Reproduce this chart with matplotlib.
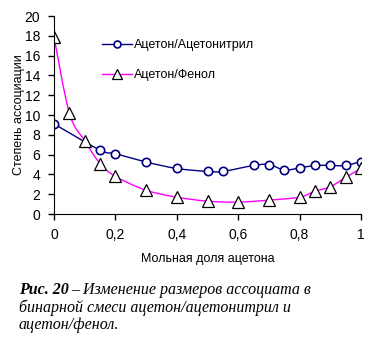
import numpy as np
import matplotlib
matplotlib.use('Agg')
import matplotlib.pyplot as plt
from matplotlib.path import Path
from matplotlib.patches import PathPatch
from matplotlib.ticker import FuncFormatter

plt.rcParams['font.family'] = ['Liberation Sans', 'DejaVu Sans']

# data
x_nitrile = [0, 0.15, 0.2, 0.3, 0.4, 0.5, 0.55, 0.65, 0.7, 0.75, 0.8, 0.85, 0.9, 0.95, 1.0]
y_nitrile = [9.1, 6.45, 6.1, 5.25, 4.6, 4.3, 4.3, 4.9, 5.0, 4.45, 4.65, 4.9, 4.9, 4.9, 5.3]

x_phenol = [0, 0.05, 0.1, 0.15, 0.2, 0.3, 0.4, 0.5, 0.6, 0.7, 0.8, 0.85, 0.9, 0.95, 1.0]
y_phenol = [17.9, 10.2, 7.4, 5.1, 3.8, 2.4, 1.7, 1.3, 1.2, 1.4, 1.7, 2.3, 2.75, 3.7, 4.6]

label_nitrile = 'Ацетон/Ацетонитрил'
label_phenol = 'Ацетон/Фенол'


def smooth_path(xs, ys, t=1/6):
    # Excel-like smoothed line: Catmull-Rom segments as cubic Bezier curves
    pts = np.column_stack([xs, ys])
    verts = [pts[0]]
    codes = [Path.MOVETO]
    n = len(pts)
    for i in range(n - 1):
        p0 = pts[max(i - 1, 0)]
        p1 = pts[i]
        p2 = pts[i + 1]
        p3 = pts[min(i + 2, n - 1)]
        c1 = p1 + (p2 - p0) * t
        c2 = p2 - (p3 - p1) * t
        verts += [c1, c2, p2]
        codes += [Path.CURVE4] * 3
    return Path(verts, codes)


fig = plt.figure(figsize=(3.84, 3.37), dpi=100)
ax = fig.add_axes([54/384, 1 - 214/337, 307/384, 198/337])

ax.add_patch(PathPatch(smooth_path(x_nitrile, y_nitrile), fc='none', ec='#000080', lw=1))
ax.add_patch(PathPatch(smooth_path(x_phenol, y_phenol), fc='none', ec='#ff00ff', lw=1))

ax.plot(x_nitrile, y_nitrile, ls='none', marker='o', ms=6, mfc='white', mec='#000080', mew=1.2)
ax.plot(x_phenol, y_phenol, ls='none', marker='^', ms=8, mfc='white', mec='black', mew=0.9)

# legend handles
h1, = ax.plot([], [], color='#000080', lw=1, marker='o', ms=5, mfc='white', mec='#000080', mew=1.2)
h2, = ax.plot([], [], color='#ff00ff', lw=1, marker='^', ms=7, mfc='white', mec='black', mew=0.9)
ax.legend([h1, h2], [label_nitrile, label_phenol], loc='upper left',
          bbox_to_anchor=(0.12, 0.94), frameon=False, fontsize=9,
          handlelength=2.4, handletextpad=0.15, labelspacing=1.45)

ax.set_xlim(0, 1)
ax.set_ylim(0, 20)
ax.set_xticks([0, 0.2, 0.4, 0.6, 0.8, 1.0])
ax.set_yticks(range(0, 21, 2))
ax.xaxis.set_major_formatter(FuncFormatter(lambda v, p: f'{v:g}'.replace('.', ',')))
ax.tick_params(direction='out', length=4, width=1, labelsize=10, pad=6)
ax.spines['top'].set_visible(False)
ax.spines['right'].set_visible(False)
ax.set_xlabel('Мольная доля ацетона', fontsize=9, labelpad=8)
ax.set_ylabel('Степень ассоциации', fontsize=9)
ax.yaxis.set_label_coords(-0.095, 0.5)

# caption: bold italic prefix then italic text
fig.canvas.draw()
r = fig.canvas.get_renderer()
cap_font = dict(family=['Liberation Serif', 'DejaVu Serif'], style='italic', fontsize=11.5)
t0 = fig.text(19/384, 1 - 290/337, 'Рис. 20', weight='bold', va='center', **cap_font)
bb = t0.get_window_extent(renderer=r)
fig.text(bb.x1/384 + 0.005, 1 - 290/337, '– Изменение размеров ассоциата в', va='center', **cap_font)
fig.text(19/384, 1 - 307.5/337, 'бинарной смеси ацетон/ацетонитрил и', va='center', **cap_font)
fig.text(19/384, 1 - 325/337, 'ацетон/фенол.', va='center', **cap_font)

fig.savefig('out.png', dpi=100)
